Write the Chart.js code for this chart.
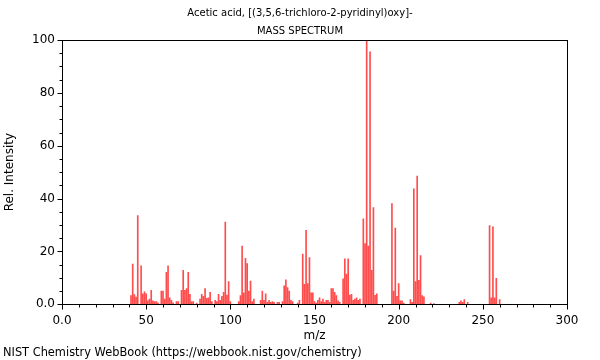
<!DOCTYPE html>
<html lang="en">
<head>
  <meta charset="UTF-8" />
  <title>Acetic acid, [(3,5,6-trichloro-2-pyridinyl)oxy]- Mass Spectrum</title>
  <script src="https://cdn.jsdelivr.net/npm/chart.js"></script>
  <style>
    html, body {
      margin: 0;
      padding: 0;
      background: #fff;
    }
    #wrap {
      width: 600px;
      height: 360px;
    }
  </style>
</head>
<body>
  <div id="wrap"><canvas id="spectrum"></canvas></div>

  <script>
    // m/z positions and relative intensities
    const massValues = [
      41, 42, 43, 44, 45, 47, 48, 49, 50, 51, 52, 53, 54, 55, 56, 57, 59, 60, 61, 62,
      63, 64, 65, 66, 68, 69, 71, 72, 73, 74, 75, 76, 77, 78, 80, 82, 83, 84, 85, 86,
      87, 88, 89, 91, 92, 93, 94, 95, 96, 97, 98, 99, 100, 105, 106, 107, 108, 109, 110, 111,
      112, 113, 114, 118, 119, 120, 121, 122, 123, 124, 125, 126, 128, 129, 131, 132, 133, 134, 135, 136,
      137, 140, 141, 143, 144, 145, 146, 147, 148, 149, 150, 151, 152, 153, 154, 155, 156, 157, 158, 159,
      160, 161, 162, 163, 164, 165, 167, 168, 169, 170, 171, 172, 173, 174, 175, 176, 177, 179, 180, 181,
      182, 183, 184, 185, 186, 187, 196, 197, 198, 199, 200, 201, 202, 203, 207, 208, 209, 210, 211, 212,
      213, 214, 215, 219, 221, 236, 237, 238, 239, 241, 254, 255, 256, 257, 258, 260
    ];
    const relIntensity = [
      3.3, 15.2, 3.7, 2.7, 33.6, 14.6, 4, 4.7, 4, 1.3, 2, 5.3, 1.3, 1, 1, 0.6, 5, 5, 2, 12.1,
      14.6, 2.5, 1.5, 0.6, 1, 1, 5.3, 12.9, 5.3, 6, 12.1, 3.8, 1, 1, 0.5, 2, 3.8, 3, 6, 2.3,
      2.5, 4.5, 1, 1.5, 1, 3.8, 1.5, 3, 4.5, 31.1, 3.5, 8.6, 1, 1, 3.3, 22, 4.3, 17.4, 15.4, 5,
      8.8, 1, 2, 1.5, 5, 1.5, 4, 0.8, 1.5, 0.8, 1, 0.8, 0.8, 0.8, 1, 7, 9.3, 6.3, 5, 1.5,
      1, 0.5, 1.5, 19, 7.6, 28, 7.8, 17.7, 4.3, 4.3, 1, 0.5, 1.5, 2.5, 1, 2, 0.8, 1.5, 1.5, 0.8,
      6, 6, 4.5, 3.3, 1.3, 0.8, 9.6, 17.2, 11.4, 17.2, 3.5, 3.8, 1.5, 2, 2.5, 1.5, 2, 32.3, 23, 100,
      22, 95.5, 12.9, 36.6, 3.4, 4, 38.1, 5, 28.8, 3, 7.8, 1.3, 1.3, 0.5, 1.8, 0.8, 43.7, 8.6, 48.5, 9.1,
      18.4, 3.3, 2.8, 0.5, 0.3, 0.8, 1.3, 0.8, 1.8, 0.8, 29.8, 2.5, 29.3, 2.5, 9.8, 1.8
    ];

    const xTickLabels = ['0.0', '50', '100', '150', '200', '250', '300'];
    const yTickLabels = ['0.0', '20', '40', '60', '80', '100'];

    const titleLines = ['Acetic acid, [(3,5,6-trichloro-2-pyridinyl)oxy]-', 'MASS SPECTRUM'];
    const footerText = 'NIST Chemistry WebBook (https://webbook.nist.gov/chemistry)';

    const FONT = "'DejaVu Sans', sans-serif";

    // box around the plot plus major/minor tick marks
    const frameTicks = {
      id: 'frameTicks',
      afterDraw(chart) {
        const { ctx, chartArea: a, scales: { x, y } } = chart;
        ctx.save();
        ctx.strokeStyle = '#000';
        ctx.lineWidth = 1;
        const L = Math.round(a.left) + 0.5, R = Math.round(a.right) + 0.5;
        const T = Math.round(a.top) + 0.5, B = Math.round(a.bottom) + 0.5;
        ctx.strokeRect(L, T, R - L, B - T);
        ctx.beginPath();
        for (let v = 0; v <= 300; v += 10) {
          const px = Math.round(x.getPixelForValue(v)) + 0.5;
          const len = v % 50 === 0 ? 5 : 3;
          ctx.moveTo(px, B);
          ctx.lineTo(px, B + len);
        }
        for (let v = 0; v <= 100; v += 5) {
          const py = Math.round(y.getPixelForValue(v)) + 0.5;
          const len = v % 20 === 0 ? 5 : 3;
          ctx.moveTo(L, py);
          ctx.lineTo(L - len, py);
        }
        ctx.stroke();
        ctx.restore();
      }
    };

    const points = massValues.map((m, i) => ({ x: m, y: relIntensity[i] }));

    new Chart(document.getElementById('spectrum'), {
      type: 'bar',
      data: {
        datasets: [{
          data: points,
          backgroundColor: 'rgba(255,0,0,0.7)',
          borderWidth: 0,
          barThickness: 1
        }]
      },
      options: {
        responsive: true,
        maintainAspectRatio: false,
        animation: false,
        layout: { padding: { left: 3, right: 3, top: 0, bottom: 0 } },
        plugins: {
          legend: { display: false },
          tooltip: { enabled: false },
          title: {
            display: true,
            text: titleLines,
            color: '#000',
            font: { family: FONT, size: 10, weight: 'normal', lineHeight: 1.8 },
            padding: { top: 4, bottom: 0 }
          },
          subtitle: {
            display: true,
            text: footerText,
            position: 'bottom',
            align: 'start',
            color: '#000',
            font: { family: FONT, size: 11.4, weight: 'normal', lineHeight: 1.2 },
            padding: { top: 3, bottom: 0 }
          }
        },
        scales: {
          x: {
            type: 'linear',
            min: 0,
            max: 300,
            offset: false,
            grid: { display: false, drawTicks: false },
            border: { display: false },
            ticks: {
              stepSize: 50,
              autoSkip: false,
              maxRotation: 0,
              padding: 9,
              color: '#000',
              font: { family: FONT, size: 12 },
              callback: (v, i) => xTickLabels[i]
            },
            title: {
              display: true,
              text: 'm/z',
              color: '#000',
              font: { family: FONT, size: 12 },
              padding: { top: 2, bottom: 0 }
            },
            afterFit: s => { s.height = 39; }
          },
          y: {
            min: 0,
            max: 100,
            grid: { display: false, drawTicks: false },
            border: { display: false },
            ticks: {
              stepSize: 20,
              autoSkip: false,
              padding: 7,
              color: '#000',
              font: { family: FONT, size: 12 },
              callback: (v, i) => yTickLabels[i]
            },
            title: {
              display: true,
              text: 'Rel. Intensity',
              color: '#000',
              font: { family: FONT, size: 12 },
              padding: { top: 0, bottom: 0 }
            },
            afterFit: s => { s.width = 59; }
          },
          // empty right-hand axis that only reserves the margin right of the plot
          yRight: {
            position: 'right',
            min: 0,
            max: 100,
            grid: { display: false, drawTicks: false },
            border: { display: false },
            ticks: { display: false },
            afterFit: s => { s.width = 30; }
          }
        }
      },
      plugins: [frameTicks]
    });
  </script>
</body>
</html>
